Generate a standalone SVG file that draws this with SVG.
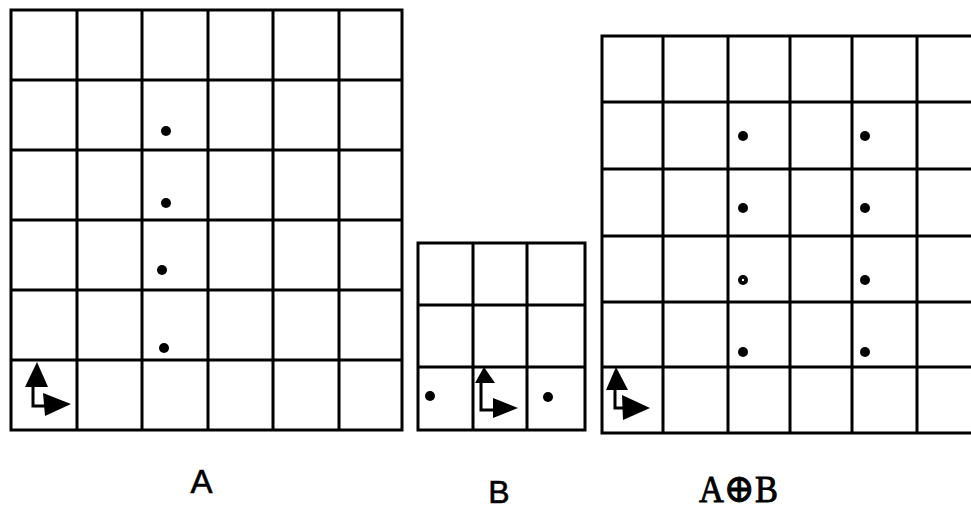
<svg xmlns="http://www.w3.org/2000/svg" width="971" height="510" viewBox="0 0 971 510">
<style>
.g{stroke:#000;stroke-width:3;fill:none;stroke-linecap:square}
.d{fill:#000}
.ax{stroke:#000;stroke-width:3;fill:none}
.ah{fill:#000}
.ls{font-family:"Liberation Sans",Arial,sans-serif;fill:#000;stroke:#000;stroke-width:0.6;text-anchor:middle}
.lt{font-family:"Liberation Serif","DejaVu Serif",serif;fill:#000;stroke:#000;stroke-width:0.9}
</style>
<rect width="971" height="510" fill="#fff"/>
<g id="gridA">
<path class="g" d="M11 10V430M77 10V430M142 10V430M208 10V430M273 10V430M339 10V430M402 10V430M11 10H402M11 80H402M11 150H402M11 220H402M11 290H402M11 360H402M11 430H402"/>
<circle class="d" cx="166" cy="131" r="5"/>
<circle class="d" cx="166" cy="203" r="5"/>
<circle class="d" cx="162" cy="270" r="5"/>
<circle class="d" cx="164" cy="348" r="5"/>
<g id="axesA">
<path class="ax" d="M33 385V406H45"/>
<polygon class="ah" points="25,387 37,362 48,387"/>
<polygon class="ah" points="43,393 71,404 45,416"/>
</g>
</g>
<g id="gridB">
<path class="g" d="M418 243V430M473 243V430M527 243V430M585 243V430M418 243H585M418 305H585M418 367H585M418 430H585"/>
<circle class="d" cx="430" cy="396" r="5"/>
<circle class="d" cx="548" cy="397" r="5"/>
<g id="axesB">
<path class="ax" d="M481 381V410H493"/>
<polygon class="ah" points="475,383 484,367 495,383"/>
<polygon class="ah" points="493,398 518,408 493,418"/>
</g>
</g>
<g id="gridC">
<path class="g" d="M602 36V433M663 36V433M728 36V433M790 36V433M852 36V433M917 36V433M602 36H973M602 102H973M602 169H973M602 236H973M602 302H973M602 367H973M602 433H973"/>
<circle class="d" cx="743" cy="136" r="5"/>
<circle class="d" cx="865" cy="136" r="5"/>
<circle class="d" cx="743" cy="208" r="5"/>
<circle class="d" cx="865" cy="208" r="5"/>
<circle class="d" cx="743" cy="280" r="5"/>
<circle cx="743" cy="280" r="1.2" fill="#fff"/>
<circle class="d" cx="865" cy="280" r="5"/>
<circle class="d" cx="743" cy="352" r="5"/>
<circle class="d" cx="865" cy="352" r="5"/>
<g id="axesC">
<path class="ax" d="M615 388V408H623"/>
<polygon class="ah" points="606,390 616,367 628,390"/>
<polygon class="ah" points="622,395 650,408 623,420"/>
</g>
</g>
<g id="labels">
<text class="ls" x="201.5" y="493" font-size="33">A</text>
<text class="ls" x="499" y="503" font-size="32">B</text>
<text class="lt" x="699" y="502" font-size="37" textLength="79" lengthAdjust="spacingAndGlyphs">A<tspan font-size="40">⊕</tspan>B</text>
</g>
</svg>
